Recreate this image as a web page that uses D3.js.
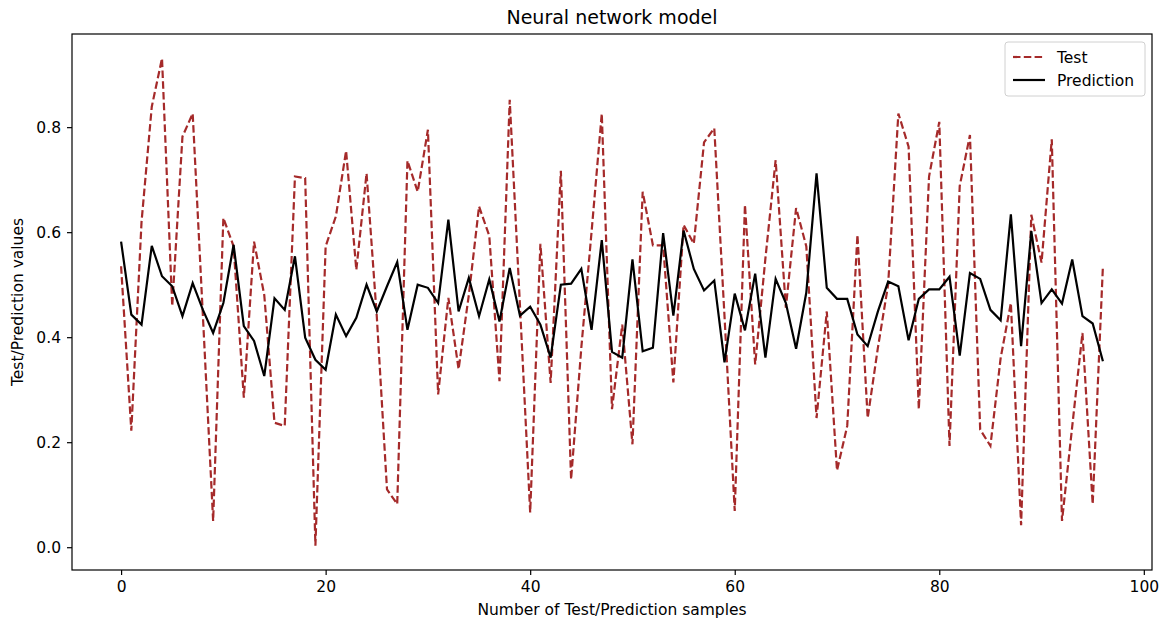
<!DOCTYPE html>
<html>
<head>
<meta charset="utf-8">
<script src="https://cdn.jsdelivr.net/npm/d3@7"></script>
<style>
  body { margin: 0; background: #fff; }
  svg text { font-family: "DejaVu Sans", sans-serif; fill: #000; }
</style>
</head>
<body>
<svg id="chart" width="1164" height="623"></svg>
<script>
// values
var testVals = [
  0.535, 0.222, 0.62, 0.839, 0.931, 0.459, 0.782, 0.826, 0.44, 0.050,
  0.627, 0.573, 0.285, 0.582, 0.48, 0.237, 0.231, 0.706, 0.703, 0.003,
  0.573, 0.630, 0.755, 0.528, 0.712, 0.44, 0.110, 0.082, 0.736, 0.677,
  0.795, 0.291, 0.475, 0.339, 0.48, 0.649, 0.593, 0.316, 0.852, 0.46,
  0.066, 0.578, 0.313, 0.717, 0.129, 0.38, 0.60, 0.826, 0.263, 0.424,
  0.196, 0.677, 0.575, 0.575, 0.314, 0.614, 0.578, 0.771, 0.798, 0.44,
  0.069, 0.652, 0.348, 0.55, 0.737, 0.456, 0.646, 0.573, 0.246, 0.449,
  0.146, 0.231, 0.595, 0.246, 0.38, 0.50, 0.826, 0.763, 0.263, 0.706,
  0.810, 0.193, 0.688, 0.785, 0.224, 0.193, 0.36, 0.465, 0.042, 0.633,
  0.542, 0.777, 0.050, 0.23, 0.408, 0.082, 0.535
];
var predVals = [
  0.582, 0.443, 0.424, 0.574, 0.516, 0.497, 0.440, 0.503, 0.452, 0.408,
  0.465, 0.576, 0.421, 0.393, 0.326, 0.474, 0.452, 0.554, 0.399, 0.357,
  0.338, 0.443, 0.402, 0.437, 0.500, 0.449, 0.497, 0.543, 0.414, 0.500,
  0.494, 0.465, 0.624, 0.449, 0.513, 0.440, 0.510, 0.430, 0.532, 0.441,
  0.458, 0.424, 0.361, 0.500, 0.502, 0.530, 0.414, 0.585, 0.372, 0.361,
  0.548, 0.373, 0.380, 0.598, 0.441, 0.603, 0.530, 0.489, 0.508, 0.352,
  0.483, 0.413, 0.521, 0.361, 0.511, 0.465, 0.378, 0.485, 0.712, 0.494,
  0.473, 0.473, 0.405, 0.383, 0.449, 0.506, 0.497, 0.394, 0.473, 0.491,
  0.491, 0.515, 0.365, 0.522, 0.511, 0.452, 0.432, 0.634, 0.383, 0.602,
  0.465, 0.491, 0.464, 0.548, 0.440, 0.426, 0.354
];
var xTicks = [0, 20, 40, 60, 80, 100];
var yTicks = [0.0, 0.2, 0.4, 0.6, 0.8];
var seriesNames = ["Test", "Prediction"];

var svg = d3.select("#chart");
var plotLeft = 72, plotRight = 1152, plotTop = 34, plotBottom = 570;

var n = testVals.length;
var allVals = testVals.concat(predVals);
var yMin = d3.min(allVals), yMax = d3.max(allVals);
var xPad = (n - 1) * 0.05, yPad = (yMax - yMin) * 0.05;

var x = d3.scaleLinear().domain([-xPad, n - 1 + xPad]).range([plotLeft, plotRight]);
var y = d3.scaleLinear().domain([yMin - yPad, yMax + yPad]).range([plotBottom, plotTop]);

var line = d3.line()
    .x(function(d, i) { return x(i); })
    .y(function(d) { return y(d); });

svg.append("path").datum(testVals)
    .attr("d", line)
    .attr("fill", "none")
    .attr("stroke", "#a52a2a")
    .attr("stroke-width", 2.2)
    .attr("stroke-dasharray", "7.5,3.3");

svg.append("path").datum(predVals)
    .attr("d", line)
    .attr("fill", "none")
    .attr("stroke", "#000")
    .attr("stroke-width", 2.2);

// axes
var xAxis = svg.append("g").attr("transform", "translate(0," + plotBottom + ")")
    .call(d3.axisBottom(x).tickValues(xTicks).tickFormat(d3.format("d")).tickSizeOuter(0).tickSize(5).tickPadding(6));
var yAxis = svg.append("g").attr("transform", "translate(" + plotLeft + ",0)")
    .call(d3.axisLeft(y).tickValues(yTicks).tickFormat(d3.format(".1f")).tickSizeOuter(0).tickSize(5).tickPadding(6));
[xAxis, yAxis].forEach(function(a) {
    a.select(".domain").remove();
    a.selectAll("line").attr("stroke", "#000").attr("stroke-width", 1.2);
    a.selectAll("text").attr("font-size", "15.5px").attr("font-family", "DejaVu Sans").attr("fill", "#000");
});

// frame
svg.append("rect")
    .attr("x", plotLeft).attr("y", plotTop)
    .attr("width", plotRight - plotLeft).attr("height", plotBottom - plotTop)
    .attr("fill", "none").attr("stroke", "#000").attr("stroke-width", 1.2);

// titles
svg.append("text").attr("x", (plotLeft + plotRight) / 2).attr("y", 24)
    .attr("text-anchor", "middle").attr("font-size", "19px")
    .text("Neural network model");
svg.append("text").attr("x", (plotLeft + plotRight) / 2).attr("y", 615)
    .attr("text-anchor", "middle").attr("font-size", "15.5px")
    .text("Number of Test/Prediction samples");
svg.append("text")
    .attr("transform", "translate(23," + (plotTop + plotBottom) / 2 + ") rotate(-90)")
    .attr("text-anchor", "middle").attr("font-size", "15.5px")
    .text("Test/Prediction values");

// legend
var lg = svg.append("g").attr("transform", "translate(1005,42)");
lg.append("rect").attr("width", 140).attr("height", 54).attr("rx", 3)
    .attr("fill", "#fff").attr("fill-opacity", 0.8)
    .attr("stroke", "#d0d0d0").attr("stroke-width", 1);
var items = lg.selectAll("g.item").data(seriesNames).enter().append("g")
    .attr("class", "item")
    .attr("transform", function(d, i) { return "translate(0," + (15 + i * 23) + ")"; });
items.append("line").attr("x1", 8).attr("x2", 40).attr("y1", 0).attr("y2", 0)
    .attr("stroke", function(d, i) { return i === 0 ? "#a52a2a" : "#000"; })
    .attr("stroke-width", 2.2)
    .attr("stroke-dasharray", function(d, i) { return i === 0 ? "7.5,3.3" : null; });
items.append("text").attr("x", 52).attr("y", 5.5).attr("font-size", "15.5px")
    .text(function(d) { return d; });
</script>
</body>
</html>
